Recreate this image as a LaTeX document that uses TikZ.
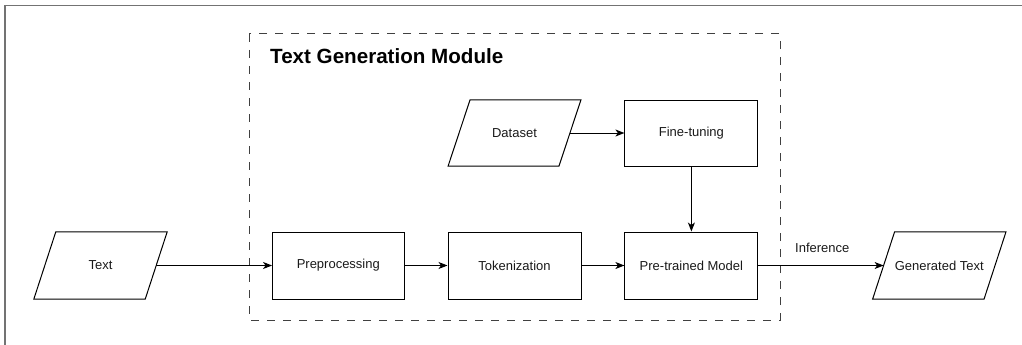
\documentclass[tikz,border=0pt]{standalone}
\usepackage{fontspec}
\setmainfont{Liberation Sans}
\usetikzlibrary{arrows.meta}
\begin{document}
\begin{tikzpicture}[x=1pt,y=-1pt,
  lbl/.style={font=\fontsize{13}{15}\selectfont, text=black!90},
  box/.style={lbl, draw, line width=1pt, minimum height=67pt, inner sep=0pt},
  paranode/.style={lbl, minimum width=111pt, minimum height=67pt, inner sep=0pt},
  paraline/.style={line width=1pt, line join=miter},
  link/.style={line width=1pt, -{Stealth[length=9pt,width=7pt,inset=2.5pt]}},
  frame/.style={draw=black!55, line width=1.5pt},
  module/.style={draw=black!75, line width=1pt, dash pattern=on 8pt off 8pt}]
  \useasboundingbox (0,0) rectangle (1022,345);

  % outer frame (continues past the right and bottom edges)
  \draw[frame] (1022,5.5) -- (5,5.5) -- (5,345);

  % module container
  \draw[module] (249,34) rectangle (780,320);
  \node[anchor=base west, inner sep=0pt, font=\fontsize{20.6}{23}\selectfont\bfseries]
    (title) at (270,63.3) {Text Generation Module};

  % input / output and data (parallelograms)
  \node[paranode] (text) at (100.5,265.5) {Text};
  \node[paranode, minimum width=110.5pt, minimum height=66pt] (data) at (514.5,133) {Dataset};
  \node[paranode] (gen) at (939.3,265.5) {Generated Text};
  \foreach \p in {text,data,gen}{
    \draw[paraline] ([xshift=11pt]\p.north west) -- ([xshift=11pt]\p.north east)
      -- ([xshift=-11pt]\p.south east) -- ([xshift=-11pt]\p.south west) -- cycle;
  }

  % processing steps
  \node[box, minimum width=131.5pt] (pre) at (338.3,265.5) {Preprocessing};
  \node[box, minimum width=133pt] (tok) at (514.5,265.5) {Tokenization};
  \node[box, minimum width=133pt] (ptm) at (691.4,265.5) {Pre-trained Model};
  \node[box, minimum width=133pt, minimum height=66pt] (fine) at (691.4,133) {Fine-tuning};

  % connectors
  \draw[link] (text.east) -- (pre.west);
  \draw[link] (pre) -- (tok);
  \draw[link] (tok) -- (ptm);
  \draw[link] (data.east) -- (fine.west);
  \draw[link] (fine) -- (ptm);
  \draw[link] (ptm.east) -- node[lbl, above=12pt, inner sep=0pt, pos=0.51] (inf) {Inference} (gen.west);
\end{tikzpicture}
\end{document}
